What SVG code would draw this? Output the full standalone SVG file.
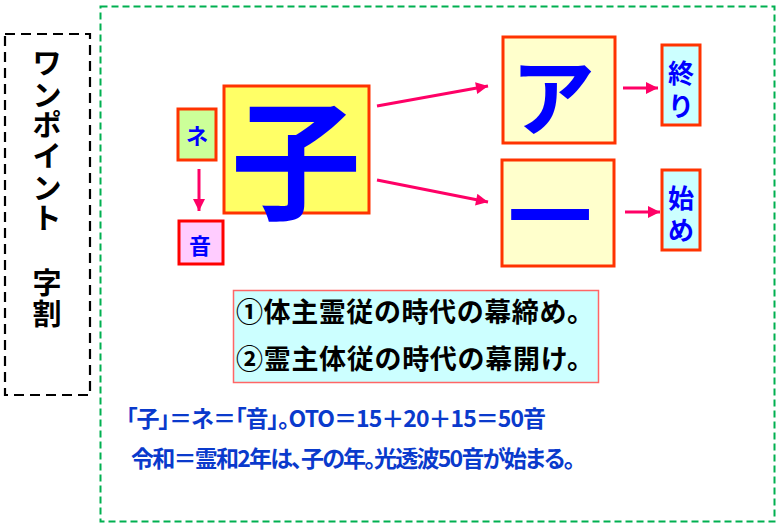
<svg xmlns="http://www.w3.org/2000/svg" width="776" height="525" viewBox="0 0 776 525">
<style>
.jp{font-family:"Noto Sans CJK JP","Noto Sans CJK SC",sans-serif;font-weight:bold}
.palt{font-feature-settings:"palt"}
.blue{fill:#0000ff}
.dblue{fill:#0a3acc}
.node{stroke:#ff3300;stroke-width:3}
.arr{stroke:#ff0066;stroke-width:3;fill:none}
.c{text-anchor:middle;dominant-baseline:central}
</style>
<defs>
<marker id="ah" viewBox="0 0 10 10" markerUnits="userSpaceOnUse" markerWidth="13" markerHeight="12" refX="10" refY="5" orient="auto">
<path d="M0,0 L10,5 L0,10 z" fill="#ff0066"/>
</marker>
</defs>
<rect width="776" height="525" fill="#ffffff"/>
<g id="frame-green">
<rect x="100.5" y="6.5" width="674" height="515" fill="none" stroke="#00b050" stroke-width="2" stroke-dasharray="7,4"/>
</g>
<g id="title">
<rect x="5" y="34" width="85" height="361" fill="none" stroke="#000000" stroke-width="2.2" stroke-dasharray="10,6"/>
<g class="jp c" font-size="29" fill="#000000">
<text class="c" x="47" y="61">ワ</text>
<text class="c" x="47" y="93">ン</text>
<text class="c" x="47" y="123">ポ</text>
<text class="c" x="47" y="154">イ</text>
<text class="c" x="47" y="186">ン</text>
<text class="c" x="47" y="216">ト</text>
<text class="c" x="47" y="281">字</text>
<text class="c" x="47" y="312">割</text>
</g>
</g>
<g id="node-ne">
<rect class="node" x="178" y="109" width="38" height="51" fill="#ccff99"/>
<text class="jp blue c" x="197" y="134" font-size="22">ネ</text>
</g>
<g id="node-oto">
<rect x="179" y="221" width="44" height="43" fill="#ffccff" stroke="#ff0000" stroke-width="3"/>
<text class="jp blue c" x="200" y="244" font-size="22">音</text>
</g>
<g id="node-ko">
<rect class="node" x="224" y="86" width="145" height="127" fill="#ffff66"/>
<text class="jp blue c" x="296" y="152" font-size="130">子</text>
</g>
<g id="node-a">
<rect class="node" x="503" y="37" width="112" height="106" fill="#ffffcc" stroke-width="2.5"/>
<text class="jp blue c" x="553" y="92" font-size="84">ア</text>
</g>
<g id="node-ichi">
<rect class="node" x="502" y="160" width="112" height="106" fill="#ffffcc" stroke-width="2.5"/>
<text class="jp blue c" x="550" y="210" font-size="84">一</text>
</g>
<g id="node-owari">
<rect class="node" x="662" y="45" width="38" height="80" fill="#ccffff" stroke-width="2.5"/>
<text class="jp blue c" x="681" y="71" font-size="26">終</text>
<text class="jp blue c" x="681" y="104" font-size="26">り</text>
</g>
<g id="node-hajime">
<rect class="node" x="662" y="170" width="38" height="80" fill="#ccffff" stroke-width="2.5"/>
<text class="jp blue c" x="681" y="196" font-size="26">始</text>
<text class="jp blue c" x="681" y="228" font-size="26">め</text>
</g>
<g id="connectors">
<line class="arr" x1="199" y1="169" x2="199" y2="211" marker-end="url(#ah)"/>
<line class="arr" x1="377" y1="106" x2="488" y2="86" marker-end="url(#ah)"/>
<line class="arr" x1="377" y1="180" x2="488" y2="202" marker-end="url(#ah)"/>
<line class="arr" x1="623" y1="88" x2="658" y2="88" marker-end="url(#ah)"/>
<line class="arr" x1="625" y1="212" x2="660" y2="212" marker-end="url(#ah)"/>
</g>
<g id="note-box">
<rect x="233.5" y="290.5" width="365" height="92" fill="#ccffff" stroke="#ff6666" stroke-width="1.5"/>
<text class="jp" x="236" y="322" font-size="27" fill="#000000" textLength="358" lengthAdjust="spacing">①体主霊従の時代の幕締め。</text>
<text class="jp" x="236" y="369" font-size="27" fill="#000000" textLength="358" lengthAdjust="spacing">②霊主体従の時代の幕開け。</text>
</g>
<g id="bottom-text">
<text class="jp dblue palt" x="126" y="427" font-size="23" textLength="420" lengthAdjust="spacing">「子」＝ネ＝「音」。OTO＝15＋20＋15＝50音</text>
<text class="jp dblue palt" x="131" y="467" font-size="23" textLength="444" lengthAdjust="spacing">令和＝霊和2年は、子の年。光透波50音が始まる。</text>
</g>
</svg>
